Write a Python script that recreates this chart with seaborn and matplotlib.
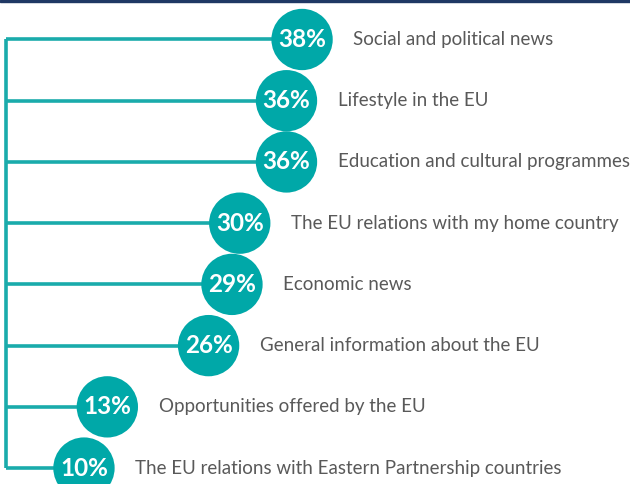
import pandas as pd
import matplotlib
matplotlib.use("Agg")
import matplotlib.pyplot as plt
import seaborn as sns

# Chart data
topics = ['Social and political news', 'Lifestyle in the EU',
          'Education and cultural programmes',
          'The EU relations with my home country', 'Economic news',
          'General information about the EU',
          'Opportunities offered by the EU',
          'The EU relations with Eastern Partnership countries']
shares = [38, 36, 36, 30, 29, 26, 13, 10]

df = pd.DataFrame({'topic': topics, 'share': shares, 'pos': range(len(topics))})

teal = '#00A8A8'
grey = '#595959'

sns.set_style('white')
plt.rcParams['font.family'] = ['Lato', 'DejaVu Sans']

fig = plt.figure(figsize=(6.3, 4.84), dpi=100)
ax = fig.add_axes([0, 0, 1, 1])

# connector lines: spine on the left, one branch per topic
ax.vlines(0, df['pos'].min(), df['pos'].max(), color='#1AABAB', lw=2.6, zorder=1)
ax.hlines(df['pos'], 0, df['share'], color='#1AABAB', lw=2.6, zorder=1)

# the bubbles
sns.scatterplot(data=df, x='share', y='pos', s=1950, color=teal,
                edgecolor='none', legend=False, ax=ax, zorder=2)

for _, row in df.iterrows():
    ax.text(row['share'], row['pos'], f"{row['share']}%", color='white',
            fontsize=17.5, fontweight='bold', ha='center', va='center', zorder=3)
    ax.text(row['share'] + 6.6, row['pos'], row['topic'], color=grey,
            fontsize=13.5, ha='left', va='center', zorder=3)

ax.set_xlim(-0.78, 80.1)
ax.set_ylim(7.26, -0.645)
ax.axis('off')

# dark band along the top edge
fig.patches.append(plt.Rectangle((0, 0.995), 1, 0.005, transform=fig.transFigure,
                                 color='#1F3864', zorder=5))

fig.savefig('out.png', dpi=100)
